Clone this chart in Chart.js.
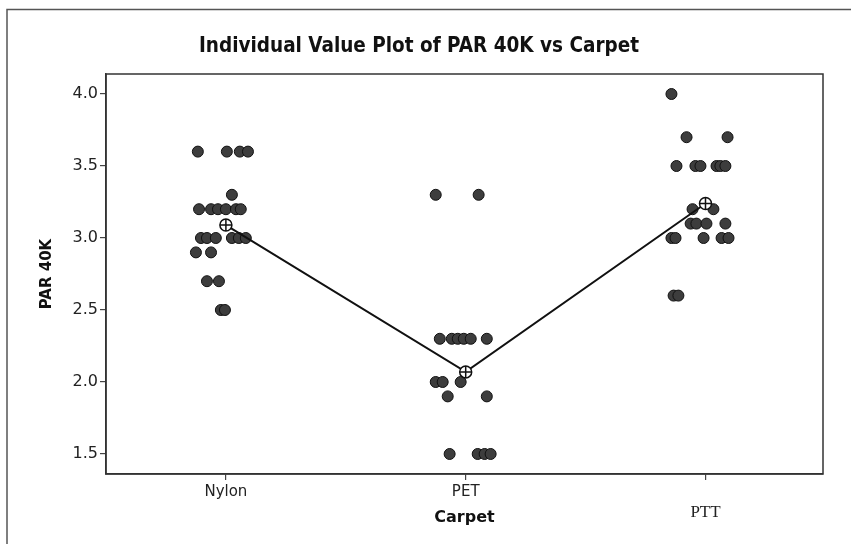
<!DOCTYPE html>
<html>
<head>
<meta charset="utf-8">
<script src="https://cdn.jsdelivr.net/npm/chart.js@4"></script>
<style>
  html, body { margin: 0; padding: 0; background: #fff; }
  #wrap { width: 851px; height: 544px; }
</style>
</head>
<body>
<div id="wrap"><canvas id="valuePlot" width="851" height="544"></canvas></div>
<script>
// data
const carpets = ['Nylon', 'PET', 'PTT'];

const nylonValues = [3.6, 3.6, 3.6, 3.6, 3.3, 3.2, 3.2, 3.2, 3.2, 3.2, 3.2, 3.0, 3.0, 3.0, 3.0, 3.0, 3.0, 2.9, 2.9, 2.7, 2.7, 2.5, 2.5];
const nylonJitter = [-0.117, 0.004, 0.058, 0.092, 0.025, -0.112, -0.062, -0.033, 0, 0.042, 0.062, -0.104, -0.079, -0.042, 0.025, 0.054, 0.083, -0.125, -0.062, -0.079, -0.029, -0.021, -0.004];

const petValues = [3.3, 3.3, 2.3, 2.3, 2.3, 2.3, 2.3, 2.3, 2.0, 2.0, 2.0, 1.9, 1.9, 1.5, 1.5, 1.5, 1.5];
const petJitter = [-0.125, 0.054, -0.108, -0.058, -0.033, -0.008, 0.021, 0.088, -0.125, -0.096, -0.021, -0.075, 0.088, -0.067, 0.05, 0.079, 0.104];

const pttValues = [4.0, 3.7, 3.7, 3.5, 3.5, 3.5, 3.5, 3.5, 3.5, 3.2, 3.2, 3.1, 3.1, 3.1, 3.1, 3.0, 3.0, 3.0, 3.0, 3.0, 2.6, 2.6];
const pttJitter = [-0.142, -0.079, 0.092, -0.121, -0.042, -0.021, 0.046, 0.062, 0.083, -0.054, 0.033, -0.062, -0.038, 0.004, 0.083, -0.142, -0.125, -0.008, 0.067, 0.096, -0.133, -0.113];

const groupMeans = [3.09, 2.07, 3.24];
const yTicks = [1.5, 2.0, 2.5, 3.0, 3.5, 4.0];

function toPoints(values, jitter, idx) {
  return values.map((v, i) => ({ x: idx + 1 + jitter[i], y: v }));
}

const allPoints = [
  ...toPoints(nylonValues, nylonJitter, 0),
  ...toPoints(petValues, petJitter, 1),
  ...toPoints(pttValues, pttJitter, 2),
];
const meanPoints = groupMeans.map((m, i) => ({ x: i + 1, y: m }));

// outer frame + plot box
const framePlugin = {
  id: 'frame',
  afterDraw(chart) {
    const ctx = chart.ctx;
    const a = chart.chartArea;
    ctx.save();
    ctx.strokeStyle = '#555';
    ctx.lineWidth = 1.5;
    ctx.beginPath();
    ctx.moveTo(7, 544);
    ctx.lineTo(7, 9.5);
    ctx.lineTo(851, 9.5);
    ctx.stroke();
    ctx.strokeStyle = '#333';
    ctx.strokeRect(a.left, a.top, a.right - a.left, a.bottom - a.top);
    ctx.restore();
  }
};

const config = {
  type: 'scatter',
  data: {
    datasets: [{
      data: meanPoints,
      showLine: true,
      borderColor: '#111',
      borderWidth: 2,
      backgroundColor: '#fff',
      pointRadius: 6,
      pointBorderWidth: 1.5,
      pointStyle: 'circle',
      order: 0
    }, {
      data: meanPoints,
      showLine: false,
      borderColor: '#111',
      borderWidth: 1.5,
      pointRadius: 6,
      pointStyle: 'cross',
      order: -1
    }, {
      data: allPoints,
      backgroundColor: '#3d3d3d',
      borderColor: '#111',
      borderWidth: 1,
      pointRadius: 5.5,
      order: 1
    }]
  },
  options: {
    animation: false,
    responsive: false,
    layout: { padding: { left: 15, right: 28, top: 28, bottom: 0 } },
    plugins: {
      legend: { display: false },
      tooltip: { enabled: false },
      title: {
        display: true,
        text: 'Individual Value Plot of PAR 40K vs Carpet',
        color: '#111',
        font: { family: 'DejaVu Sans Condensed', size: 20.5, weight: 'bold' },
        padding: { top: 6.7, bottom: 14.7 }
      }
    },
    scales: {
      x: {
        type: 'linear',
        min: 0.5,
        max: 3.49,
        afterBuildTicks: s => { s.ticks = [1, 2, 3].map(v => ({ value: v })); },
        afterFit: s => { s.height = 70; },
        ticks: {
          color: '#222',
          padding: 4,
          font: ctx => ctx.index === 2
            ? { family: 'Liberation Serif', size: 17, lineHeight: 1.1 }
            : { family: 'DejaVu Sans', size: 15, lineHeight: 1.1 },
          callback: (v, i) => i === 2 ? ['', carpets[i]] : carpets[i]
        },
        grid: { display: true, drawOnChartArea: false, drawTicks: true, tickLength: 6, color: '#444', lineWidth: 1.2 },
        border: { display: true, color: '#333', width: 1.5 },
        title: {
          display: true,
          text: 'Carpet',
          color: '#111',
          font: { family: 'DejaVu Sans', size: 16, weight: 'bold' },
          padding: { top: 0, bottom: 16.4 }
        }
      },
      y: {
        min: 1.361,
        max: 4.139,
        afterBuildTicks: s => { s.ticks = yTicks.map(v => ({ value: v })); },
        afterFit: s => { s.width = 91; },
        ticks: {
          color: '#222',
          padding: 2,
          font: { family: 'DejaVu Sans', size: 16 },
          callback: v => Number(v).toFixed(1)
        },
        grid: { display: true, drawOnChartArea: false, drawTicks: true, tickLength: 6, color: '#444', lineWidth: 1.2 },
        border: { display: true, color: '#333', width: 1.5 },
        title: {
          display: true,
          text: 'PAR 40K',
          color: '#111',
          font: { family: 'DejaVu Sans', size: 15, weight: 'bold' },
          padding: { top: 23, bottom: 0 }
        }
      }
    }
  },
  plugins: [framePlugin]
};

const valuePlot = new Chart(document.getElementById('valuePlot').getContext('2d'), config);
</script>
</body>
</html>
